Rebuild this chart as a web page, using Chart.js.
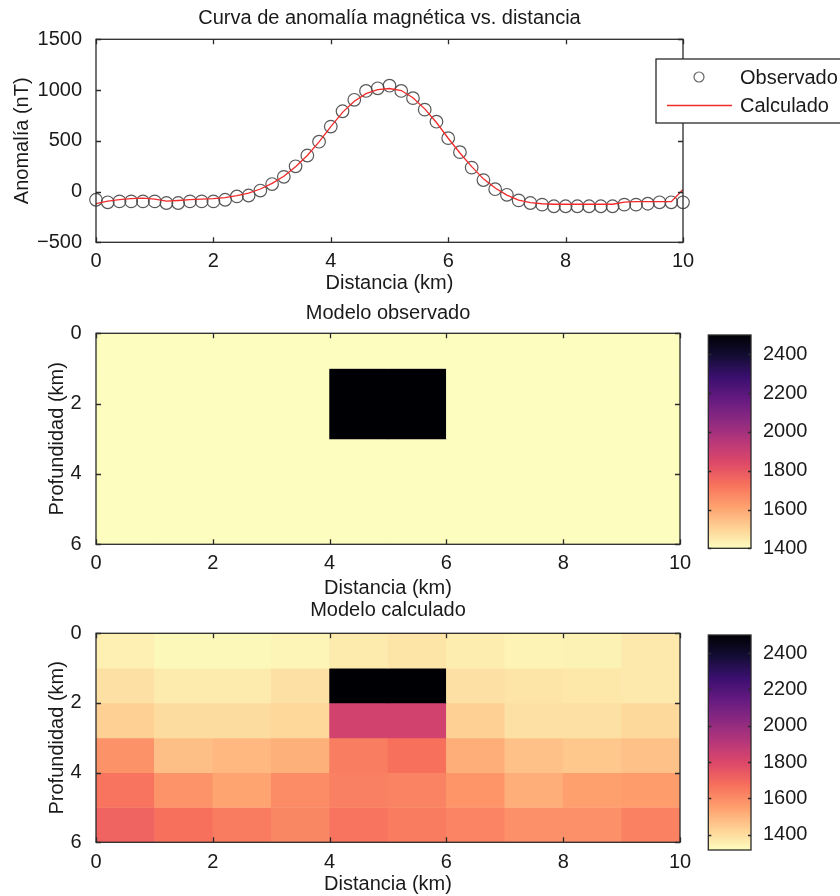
<!DOCTYPE html>
<html lang="es">
<head>
<meta charset="UTF-8">
<title>Anomalía magnética y modelos de densidad</title>
<script src="https://cdn.jsdelivr.net/npm/chart.js"></script>
<style>
  body { margin: 0; background: #fff; }
  #lienzo { position: relative; width: 840px; height: 896px; overflow: hidden; }
  canvas { position: absolute; }
</style>
</head>
<body>
<div id="lienzo">
  <canvas id="anomalia" width="840" height="300" style="left:0;top:0"></canvas>
  <canvas id="observado" width="700" height="300" style="left:0;top:300px"></canvas>
  <canvas id="barraObs" width="140" height="300" style="left:700px;top:300px"></canvas>
  <canvas id="calculado" width="700" height="300" style="left:0;top:596px"></canvas>
  <canvas id="barraCalc" width="140" height="300" style="left:700px;top:596px"></canvas>
</div>
<script>
// --- datos del perfil ---
const distancia = [0, 0.2, 0.4, 0.6, 0.8, 1, 1.2, 1.4, 1.6, 1.8, 2, 2.2, 2.4, 2.6, 2.8, 3, 3.2, 3.4, 3.6, 3.8,
  4, 4.2, 4.4, 4.6, 4.8, 5, 5.2, 5.4, 5.6, 5.8, 6, 6.2, 6.4, 6.6, 6.8, 7, 7.2, 7.4, 7.6, 7.8,
  8, 8.2, 8.4, 8.6, 8.8, 9, 9.2, 9.4, 9.6, 9.8, 10];
const anomaliaObs = [-81, -106, -97, -97, -97, -97, -113, -113, -97, -97, -97, -81, -48, -39, 10, 74, 145, 249, 355, 491,
  640, 791, 904, 991, 1017, 1043, 991, 920, 807, 688, 526, 388, 236, 113, 23, -32, -87, -113, -129, -145,
  -145, -145, -145, -145, -145, -129, -129, -120, -106, -106, -106];
const anomaliaCalc = [-120, -95, -80, -70, -65, -75, -95, -88, -80, -75, -70, -60, -40, -15, 25, 80, 150, 245, 355, 490,
  640, 780, 890, 965, 1005, 1015, 995, 925, 815, 680, 525, 380, 245, 125, 35, -35, -85, -110, -120, -125,
  -125, -125, -125, -125, -125, -105, -100, -100, -100, -100, 20];
const ticksDistancia = [0, 2, 4, 6, 8, 10];
const ticksAnomalia = [-500, 0, 500, 1000, 1500];

// --- modelos (filas = profundidad 0-1, 1-2, ... 5-6 km; columnas = 0-1 ... 9-10 km) ---
const bordesX = [0, 1, 2, 3, 4, 5, 6, 7, 8, 9, 10];
const bordesZ = [0, 1, 2, 3, 4, 5, 6];
const ticksProfundidad = [0, 2, 4, 6];
const modeloObservado = [
  [1400, 1400, 1400, 1400, 1400, 1400, 1400, 1400, 1400, 1400],
  [1400, 1400, 1400, 1400, 2500, 2500, 1400, 1400, 1400, 1400],
  [1400, 1400, 1400, 1400, 2500, 2500, 1400, 1400, 1400, 1400],
  [1400, 1400, 1400, 1400, 1400, 1400, 1400, 1400, 1400, 1400],
  [1400, 1400, 1400, 1400, 1400, 1400, 1400, 1400, 1400, 1400],
  [1400, 1400, 1400, 1400, 1400, 1400, 1400, 1400, 1400, 1400]
];
const modeloCalculado = [
  [1348, 1327, 1327, 1335, 1361, 1379, 1354, 1341, 1343, 1366],
  [1390, 1361, 1361, 1390, 2500, 2500, 1390, 1377, 1370, 1366],
  [1431, 1398, 1400, 1410, 1830, 1830, 1431, 1390, 1387, 1407],
  [1585, 1473, 1490, 1511, 1635, 1671, 1515, 1465, 1451, 1468],
  [1660, 1583, 1540, 1599, 1630, 1623, 1577, 1515, 1550, 1559],
  [1710, 1671, 1643, 1612, 1660, 1643, 1620, 1590, 1590, 1628]
];
const rangoObs = [1400, 2500];
const rangoCalc = [1315, 2500];
const ticksBarraObs = [1400, 1600, 1800, 2000, 2200, 2400];
const ticksBarraCalc = [1400, 1600, 1800, 2000, 2200, 2400];

// --- estilo ---
const FUENTE = '"Liberation Sans", Arial, Helvetica, sans-serif';
const TINTA = '#1a1a1a';
const EJE = '#2a2a2a';
const ROJO = '#f22a2a';
Chart.defaults.font.family = FUENTE;
Chart.defaults.font.size = 20;
Chart.defaults.color = TINTA;
Chart.defaults.animation = false;

// mapa magma (invertido: claro = valores bajos)
const magma = ['#000004', '#140e36', '#3b0f70', '#641a80', '#8c2981', '#b73779',
  '#de4968', '#f7705c', '#fe9f6d', '#fecf92', '#fcfdbf'];
const hexRgb = h => [1, 3, 5].map(i => parseInt(h.substr(i, 2), 16));
function colorMagma(s) {
  s = Math.min(1, Math.max(0, s));
  const p = s * (magma.length - 1);
  const i = Math.min(Math.floor(p), magma.length - 2);
  const f = p - i;
  const a = hexRgb(magma[i]), b = hexRgb(magma[i + 1]);
  const c = a.map((v, k) => Math.round(v + (b[k] - v) * f));
  return `rgb(${c[0]},${c[1]},${c[2]})`;
}
const colorValor = (v, rango) => colorMagma(1 - (v - rango[0]) / (rango[1] - rango[0]));

const numero = v => v < 0 ? '\u2212' + Math.abs(v) : String(v);
const fijarTicks = lista => scale => { scale.ticks = lista.map(v => ({ value: v })); };

// marco completo con marcas de graduación hacia dentro
const marco = {
  id: 'marco',
  afterDraw(chart, args, opts) {
    const { ctx, chartArea: a } = chart;
    const len = opts.len || 5;
    ctx.save();
    ctx.strokeStyle = EJE;
    ctx.lineWidth = 1.3;
    ctx.beginPath();
    const xs = opts.x && chart.scales[opts.x];
    const ys = opts.y && chart.scales[opts.y];
    if (xs) xs.ticks.forEach(t => {
      const p = Math.round(xs.getPixelForValue(t.value)) + 0.5;
      ctx.moveTo(p, a.bottom); ctx.lineTo(p, a.bottom - len);
      ctx.moveTo(p, a.top); ctx.lineTo(p, a.top + len);
    });
    if (ys) ys.ticks.forEach(t => {
      const p = Math.round(ys.getPixelForValue(t.value)) + 0.5;
      ctx.moveTo(a.left, p); ctx.lineTo(a.left + len, p);
      ctx.moveTo(a.right, p); ctx.lineTo(a.right - len, p);
    });
    ctx.stroke();
    ctx.strokeRect(a.left, a.top, a.right - a.left, a.bottom - a.top);
    ctx.restore();
  }
};

const leyenda = {
  id: 'leyenda',
  afterDraw(chart) {
    const ctx = chart.ctx;
    ctx.save();
    ctx.fillStyle = '#fff';
    ctx.strokeStyle = EJE;
    ctx.lineWidth = 1.3;
    ctx.fillRect(656, 59, 200, 64);
    ctx.strokeRect(656, 59, 200, 64);
    ctx.beginPath();
    ctx.arc(699, 77, 5, 0, 2 * Math.PI);
    ctx.strokeStyle = '#666';
    ctx.lineWidth = 1.2;
    ctx.stroke();
    ctx.beginPath();
    ctx.moveTo(667, 105.5); ctx.lineTo(732, 105.5);
    ctx.strokeStyle = ROJO;
    ctx.lineWidth = 1.5;
    ctx.stroke();
    ctx.fillStyle = TINTA;
    ctx.font = '20px ' + FUENTE;
    ctx.textBaseline = 'middle';
    ctx.fillText('Observado', 740, 78);
    ctx.fillText('Calculado', 740, 106);
    ctx.restore();
  }
};

// --- curva de anomalía ---
new Chart(document.getElementById('anomalia'), {
  type: 'scatter',
  data: {
    datasets: [
      {
        label: 'Calculado',
        data: distancia.map((x, i) => ({ x, y: anomaliaCalc[i] })),
        showLine: true,
        borderColor: ROJO,
        borderWidth: 1.3,
        pointRadius: 0,
        tension: 0
      },
      {
        label: 'Observado',
        data: distancia.map((x, i) => ({ x, y: anomaliaObs[i] })),
        pointStyle: 'circle',
        pointRadius: 6.3,
        borderColor: 'rgba(70,70,70,0.9)',
        borderWidth: 1.2,
        backgroundColor: 'rgba(0,0,0,0)',
        clip: false
      }
    ]
  },
  options: {
    responsive: false,
    layout: { padding: { left: 0, right: 157, top: 0, bottom: 0 } },
    plugins: {
      legend: { display: false },
      tooltip: { enabled: false },
      title: {
        display: true, text: 'Curva de anomalía magnética vs. distancia',
        font: { size: 20, weight: 'normal' }, color: TINTA,
        fullSize: false, padding: { top: 6, bottom: 9.3 }
      },
      marco: { x: 'x', y: 'y', len: 5 }
    },
    scales: {
      x: {
        type: 'linear', min: 0, max: 10,
        afterBuildTicks: fijarTicks(ticksDistancia),
        afterFit: s => { s.height = 57.7; },
        grid: { display: false }, border: { display: false },
        ticks: { padding: -1, callback: numero, maxRotation: 0 },
        title: { display: true, text: 'Distancia (km)', color: TINTA, padding: { top: 0, bottom: 5 } }
      },
      y: {
        min: -500, max: 1500,
        afterBuildTicks: fijarTicks(ticksAnomalia),
        afterFit: s => { s.width = 96; },
        grid: { display: false }, border: { display: false },
        ticks: { padding: 6, callback: numero },
        title: { display: true, text: 'Anomalía (nT)', color: TINTA, padding: { top: 10.5, bottom: 0 } }
      }
    }
  },
  plugins: [marco, leyenda]
});

// --- mapas de densidad ---
function mapa(id, titulo, modelo, rango, geo) {
  const datasets = modelo.map((fila, r) => ({
    label: bordesZ[r] + '-' + bordesZ[r + 1] + ' km',
    data: fila.map(() => [bordesZ[r], bordesZ[r + 1]]),
    backgroundColor: fila.map(v => colorValor(v, rango)),
    borderWidth: 0,
    barPercentage: 1,
    categoryPercentage: 1,
    grouped: false
  }));
  return new Chart(document.getElementById(id), {
    type: 'bar',
    data: { labels: bordesX.slice(0, -1).map((x, i) => x + '-' + bordesX[i + 1]), datasets },
    options: {
      responsive: false,
      layout: { padding: { left: 0, right: 20, top: 0, bottom: 0 } },
      plugins: {
        legend: { display: false },
        tooltip: { enabled: false },
        title: {
          display: true, text: titulo,
          font: { size: 20, weight: 'normal' }, color: TINTA,
          fullSize: false, padding: geo.titulo
        },
        marco: { x: 'dist', y: 'y', len: 5 }
      },
      scales: {
        x: { display: false, offset: true },
        dist: {
          type: 'linear', position: 'bottom', min: 0, max: 10, offset: false,
          afterBuildTicks: fijarTicks(ticksDistancia),
          afterFit: s => { s.height = geo.altoX; },
          grid: { display: false }, border: { display: false },
          ticks: { padding: geo.pasoX, callback: numero, maxRotation: 0 },
          title: { display: true, text: 'Distancia (km)', color: TINTA, padding: { top: 0, bottom: geo.tituloX } }
        },
        y: {
          type: 'linear', reverse: true, min: 0, max: 6,
          afterBuildTicks: fijarTicks(ticksProfundidad),
          afterFit: s => { s.width = 96; },
          grid: { display: false }, border: { display: false },
          ticks: { padding: 6.5, callback: numero },
          title: { display: true, text: 'Profundidad (km)', color: TINTA, padding: { top: 45.5, bottom: 0 } }
        }
      }
    },
    plugins: [marco]
  });
}

function barraColor(id, rango, ticks, arriba, abajo) {
  return new Chart(document.getElementById(id), {
    type: 'bar',
    data: {
      labels: [''],
      datasets: [{
        data: [rango],
        barPercentage: 1,
        categoryPercentage: 1,
        borderWidth: 0,
        backgroundColor: c => {
          const { chart } = c;
          if (!chart.chartArea) return '#fff';
          const y = chart.scales.y;
          const g = chart.ctx.createLinearGradient(0, y.getPixelForValue(rango[0]), 0, y.getPixelForValue(rango[1]));
          for (let k = 0; k <= 40; k++) g.addColorStop(k / 40, colorMagma(1 - k / 40));
          return g;
        }
      }]
    },
    options: {
      responsive: false,
      layout: { padding: { left: 8.3, right: 0, top: arriba, bottom: abajo } },
      plugins: { legend: { display: false }, tooltip: { enabled: false }, marco: { y: 'y', len: 3 } },
      scales: {
        x: { display: false, offset: true },
        y: {
          position: 'right', min: rango[0], max: rango[1],
          afterBuildTicks: fijarTicks(ticks),
          afterFit: s => { s.width = 89; },
          grid: { display: false }, border: { display: false },
          ticks: { padding: 4, callback: numero }
        }
      }
    },
    plugins: [marco]
  });
}

mapa('observado', 'Modelo observado', modeloObservado, rangoObs,
  { titulo: { top: 1, bottom: 8.3 }, altoX: 55.7, pasoX: -0.8, tituloX: -0.4 });
barraColor('barraObs', rangoObs, ticksBarraObs, 35, 51.7);

mapa('calculado', 'Modelo calculado', modeloCalculado, rangoCalc,
  { titulo: { top: 2.7, bottom: 10.6 }, altoX: 53.7, pasoX: -0.3, tituloX: 0 });
barraColor('barraCalc', rangoCalc, ticksBarraCalc, 39, 46);
</script>
</body>
</html>
